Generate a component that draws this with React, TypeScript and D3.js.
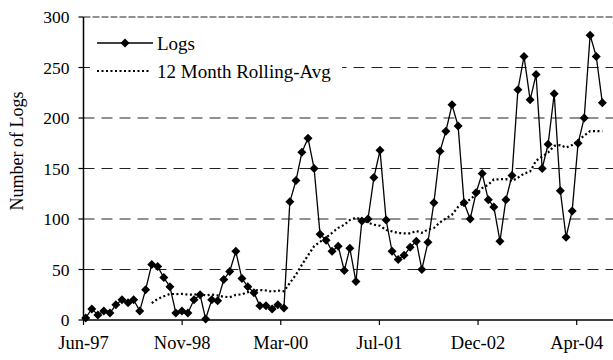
import React from "react";
import * as d3 from "d3";

// ---- data ----
const firstMonth = "1997-07-01"; // first monthly observation
const logs: number[] = [
  2, 11, 5, 9, 7, 15, 20, 17, 20, 9,
  30, 55, 53, 42, 33, 7, 9, 7, 20, 25,
  1, 20, 19, 40, 48, 68, 41, 33, 27, 14,
  14, 11, 15, 12, 117, 138, 166, 180, 150, 85,
  79, 68, 73, 49, 71, 38, 98, 100, 141, 168,
  99, 68, 60, 64, 72, 78, 50, 77, 116, 167,
  187, 213, 192, 116, 100, 126, 145, 119, 112, 78,
  119, 143, 228, 261, 218, 243, 150, 174, 224, 128,
  82, 108, 175, 200, 282, 261, 215,
];
const rollingAvg: (number | null)[] = [
  null, null, null, null, null, null, null, null, null, null, null,
  16.7, 20.9, 23.5, 25.8, 25.7, 25.8, 25.2, 25.2, 25.8, 24.3,
  25.2, 24.3, 23.0, 22.6, 24.8, 25.4, 27.6, 29.1, 29.7, 29.2,
  28.0, 29.2, 28.5, 36.7, 44.8, 54.7, 64.0, 73.1, 77.4, 81.8,
  86.3, 91.2, 94.3, 99.0, 101.2, 99.6, 96.4, 94.3, 93.3, 89.1,
  87.7, 86.1, 85.8, 85.7, 88.1, 86.3, 89.6, 91.1, 96.7, 100.5,
  104.3, 112.0, 116.0, 119.3, 124.5, 130.6, 134.0, 139.2, 139.3, 139.5,
  137.5, 140.9, 144.9, 147.1, 157.7, 161.8, 165.8, 172.4, 173.2, 170.7,
  173.2, 177.8, 182.6, 187.1, 187.1, 186.8,
];
const xTickLabels = ["Jun-97", "Nov-98", "Mar-00", "Jul-01", "Dec-02", "Apr-04"];
const axisStart = "1997-06-20";
const tickStepDays = 500;
const yTicks = [0, 50, 100, 150, 200, 250, 300];
const seriesNames = ["Logs", "12 Month Rolling-Avg"];
const yTitle = "Number of Logs";

const W = 613;
const H = 360;
const FONT = "Liberation Serif, Times New Roman, serif";

export default function App() {
  const parse = d3.timeParse("%Y-%m-%d");
  const start = parse(axisStart)!;
  const m0 = parse(firstMonth)!;
  const x = d3
    .scaleTime()
    .domain([start, d3.timeDay.offset(start, 2684)])
    .range([83.5, 613]);
  const y = d3.scaleLinear().domain([0, 300]).range([320, 17]);

  const dates = logs.map((_, i) => d3.timeMonth.offset(m0, i));
  const tickDates = xTickLabels.map((_, k) => d3.timeDay.offset(start, k * tickStepDays));

  const linePath = d3
    .line<number>()
    .x((_, i) => x(dates[i]))
    .y((d) => y(d))(logs)!;

  const avgPath = d3
    .line<number | null>()
    .defined((d) => d != null)
    .x((_, i) => x(dates[i]))
    .y((d) => y(d as number))(rollingAvg)!;

  const dia = (r: number) => `M0,${-r}L${r},0L0,${r}L${-r},0Z`;
  const x0 = x.range()[0];
  const x1 = x.range()[1];

  return (
    <svg
      width={W}
      height={H}
      style={{ position: "absolute", left: 0, top: 0, background: "#fff", fontFamily: FONT }}
    >
      <rect x={0} y={0} width={W} height={H} fill="#fff" />
      {/* gridlines */}
      {yTicks.filter((t) => t > 0).map((t) => (
        <line
          key={"g" + t}
          x1={x0}
          x2={x1}
          y1={y(t)}
          y2={y(t)}
          stroke="#222"
          strokeWidth={1}
          strokeDasharray={t === 300 ? "7,2" : "11,7"}
        />
      ))}
      {/* legend background */}
      <rect x={90} y={25} width={252} height={58} fill="#fff" />
      {/* axes */}
      <line x1={x0} x2={x0} y1={y(300)} y2={y(0)} stroke="#000" strokeWidth={1.5} />
      <line x1={x0 - 0.75} x2={x1} y1={y(0)} y2={y(0)} stroke="#000" strokeWidth={1.5} />
      {yTicks.map((t) => (
        <g key={"y" + t}>
          <line x1={x0 - 5} x2={x0} y1={y(t)} y2={y(t)} stroke="#000" strokeWidth={1.2} />
          <text x={x0 - 14} y={y(t)} dy="0.35em" textAnchor="end" fontSize={17.5} fill="#000">
            {t}
          </text>
        </g>
      ))}
      {tickDates.map((d, k) => (
        <g key={"x" + k}>
          <line x1={x(d)} x2={x(d)} y1={y(0)} y2={y(0) + 5} stroke="#000" strokeWidth={1.2} />
          <text x={x(d)} y={349} textAnchor="middle" fontSize={18.5} fill="#000">
            {xTickLabels[k]}
          </text>
        </g>
      ))}
      <text
        transform={`translate(23,151) rotate(-90)`}
        textAnchor="middle"
        fontSize={18}
        fill="#000"
      >
        {yTitle}
      </text>
      {/* series */}
      <path d={avgPath} fill="none" stroke="#000" strokeWidth={2.2} strokeDasharray="2,2.5" />
      <path d={linePath} fill="none" stroke="#000" strokeWidth={1.3} />
      {logs.map((v, i) => (
        <path key={"p" + i} d={dia(4.5)} transform={`translate(${x(dates[i])},${y(v)})`} fill="#000" />
      ))}
      {/* legend */}
      <line x1={97} x2={153} y1={43} y2={43} stroke="#000" strokeWidth={1.3} />
      <path d={dia(4.5)} transform="translate(125,43)" fill="#000" />
      <text x={157} y={43} dy="0.35em" fontSize={19} fill="#000">
        {seriesNames[0]}
      </text>
      <line x1={97} x2={151} y1={71} y2={71} stroke="#000" strokeWidth={2.2} strokeDasharray="2,2.5" />
      <text x={157} y={71} dy="0.35em" fontSize={19} fill="#000">
        {seriesNames[1]}
      </text>
    </svg>
  );
}
